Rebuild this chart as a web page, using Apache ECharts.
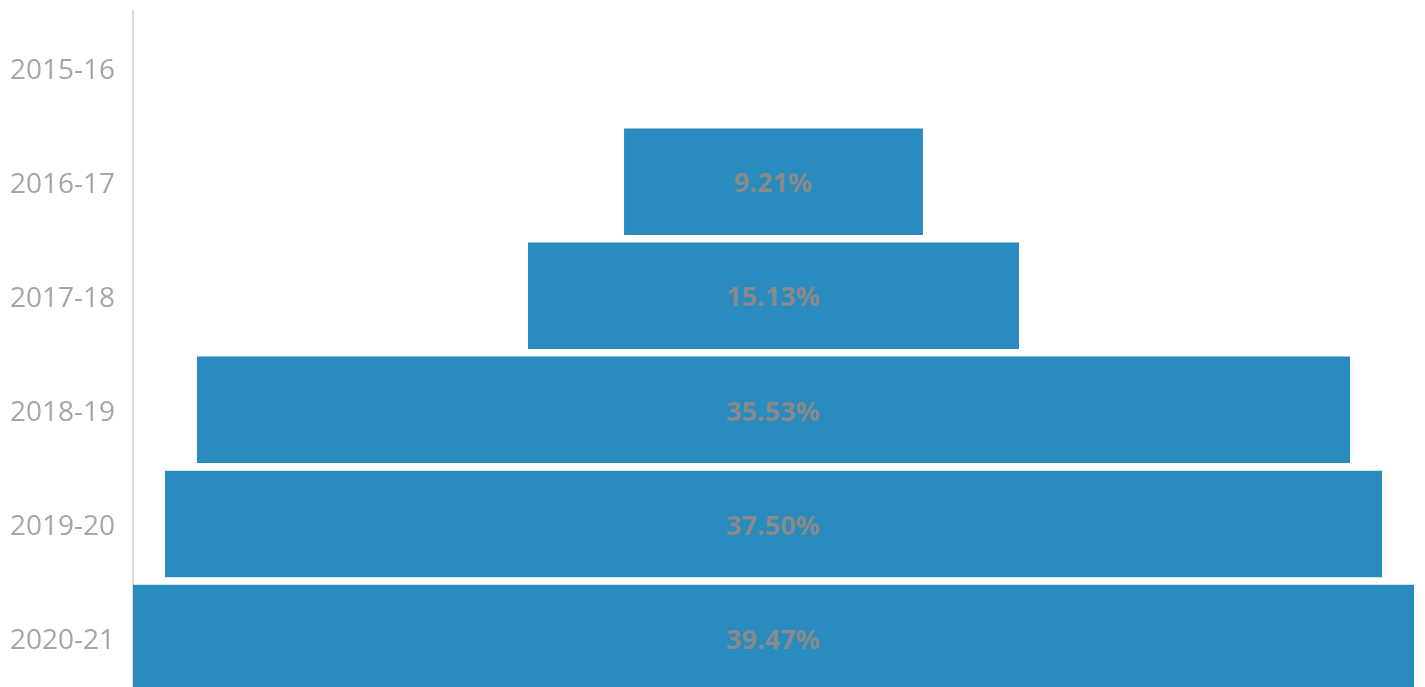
<!DOCTYPE html>
<html>
<head>
<meta charset="utf-8">
<script src="https://cdn.jsdelivr.net/npm/echarts@6/dist/echarts.min.js"></script>
<style>
html,body{margin:0;padding:0;background:#fff;}
#chart{width:1425px;height:687px;}
</style>
</head>
<body>
<div id="chart"></div>
<script>
var categories = ['2015-16', '2016-17', '2017-18', '2018-19', '2019-20', '2020-21'];
var values = [null, 9.21, 15.13, 35.53, 37.50, 39.47];
var maxValue = 39.47;

var offsets = values.map(function (v) { return v == null ? null : (maxValue - v) / 2; });

var chart = echarts.init(document.getElementById('chart'));
chart.setOption({
  animation: false,
  grid: { left: 133, right: 11, top: 10.5, height: 684.6, containLabel: false, outerBoundsMode: 'none' },
  xAxis: {
    type: 'value', min: 0, max: maxValue, show: false
  },
  yAxis: {
    type: 'category',
    data: categories,
    inverse: true,
    axisLine: { show: true, lineStyle: { color: '#d9d9d9', width: 2 } },
    axisTick: { show: false },
    axisLabel: {
      color: '#a6a6a6', fontSize: 28, fontFamily: 'Open Sans', margin: 18,
      formatter: function (v) { return '{a|' + v + '}'; },
      rich: { a: { color: '#a6a6a6', fontSize: 28, fontFamily: 'Open Sans', padding: [6, 0, 0, 0] } }
    },
    splitLine: { show: false }
  },
  series: [
    {
      type: 'bar', stack: 'f', data: offsets,
      itemStyle: { color: 'transparent' },
      barCategoryGap: '6.7%', silent: true
    },
    {
      type: 'bar', stack: 'f', data: values,
      itemStyle: { color: '#2a8bbf' },
      barCategoryGap: '6.7%',
      label: {
        show: true, position: 'inside', offset: [0, 3],
        color: '#8a8a8a', fontSize: 27, fontWeight: 'bold', fontFamily: 'Open Sans',
        formatter: function (p) { return p.value == null ? '' : p.value.toFixed(2) + '%'; }
      }
    }
  ]
});
</script>
</body>
</html>
